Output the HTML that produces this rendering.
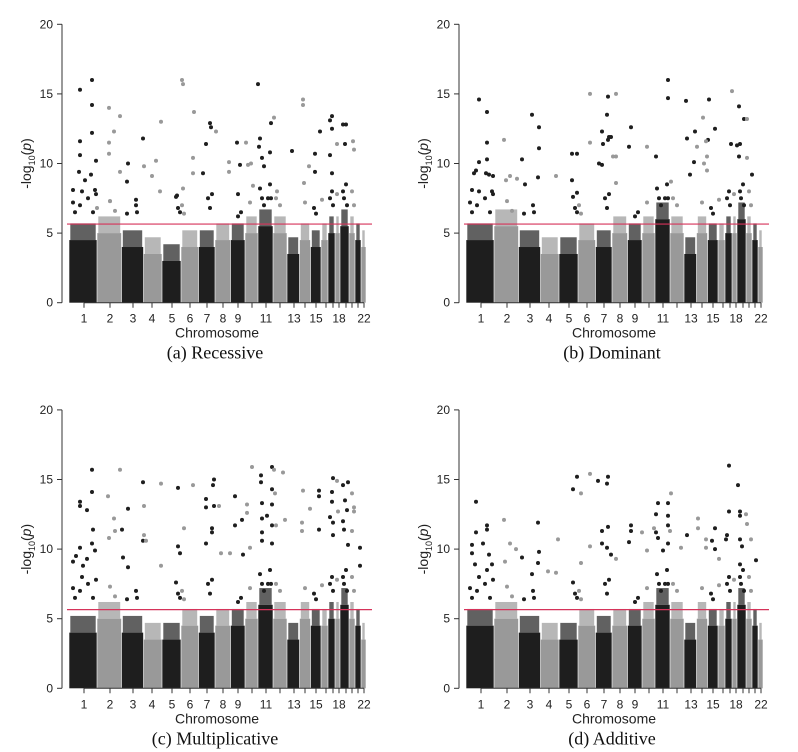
<!DOCTYPE html>
<html><head><meta charset="utf-8"><style>
html,body{margin:0;padding:0;background:#fff;}
svg{display:block;}
</style></head><body>
<svg id="fig" width="798" height="752" viewBox="0 0 798 752" xmlns="http://www.w3.org/2000/svg"></svg>
<script>
// ---- data ----
const chromosomes = ["1","2","3","4","5","6","7","8","9","10","11","12","13","14","15","16","17","18","19","20","21","22"];
const shownLabels = ["1","2","3","4","5","6","7","8","9","11","13","15","18","22"];
const yTicks = [0,5,10,15,20];
const threshold = 5.65;
const panelTitles = ["(a) Recessive","(b) Dominant","(c) Multiplicative","(d) Additive"];
// dense band heights per chromosome (-log10 p)
const coreA = [4.5,5,4,3.5,3,4,4,4.5,4.5,5,5.5,5,3.5,4.5,4,4.5,5,5,5.5,5,4.5,4];
const coreB = [4.5,5.5,4,3.5,3.5,4.5,4,5,4.5,5,6,5,3.5,5,4.5,4.5,5,5,6,5,4.5,4];
const coreC = [4,5,4,3.5,3.5,4.5,4,4.5,4.5,5,6,5,3.5,5,4.5,4.5,5,5,6,5,4.5,3.5];
const coreD = [4.5,5,4,3.5,3.5,4.5,4,4.5,4.5,5,6,5,3.5,5,4.5,4.5,5,5,6,5,4.5,3.5];
// moderately significant SNPs (shared spike structure)
const midPos = [4,6,11,13,19,24,27,58,67,68,107,109,111,139,141,143,169,172,191,193,195,199,201,202,245,247,261,263,264,274,275,277,278,41,46,113,115,207,211,268,283,285,181,236,253];
const midVal = [7.2,6.5,7.0,8,7.5,6.5,7.8,6.4,7.0,6.5,7.6,6.8,6.5,7.5,6.8,7.8,6.2,6.5,8.2,7.5,7.0,7.5,8.5,7.5,6.8,6.4,7.5,8.0,7.0,8.0,7.5,8.5,7,7.3,6.6,7.0,6.4,7.5,7.0,7.8,8.0,7.0,7.2,7.2,7.4];
// genomic position (index units) and -log10(p) of prominent SNPs
const posA = [11,11,11,23,23,23,27,4,10,16,22,26,28,40,40,40,45,51,51,41,58,59,67,74,75,83,87,92,91,108,114,114,113,124,124,125,134,137,141,142,147,160,160,168,171,169,177,179,182,184,189,191,193,195,201,202,190,205,208,223,234,234,235,240,246,246,251,263,261,263,261,263,268,274,277,276,284,285],
      valA = [15.3,11.6,10.6,16,14.2,12.2,10.2,8.1,9.4,8.8,9.2,8.1,6.8,14,11.5,10.7,12.3,13.4,9.4,7.3,8.7,10,7.4,11.8,9.8,9.1,10.2,13,8,7.7,15.7,8.2,16,10.4,9.3,13.7,9.3,11.4,12.9,12.6,12.3,10.1,9.4,11.5,9.9,7.8,11.5,9.9,10,8.4,15.7,11.8,10.4,9.8,10.8,12.9,11.2,13.3,8,10.9,14.6,14.2,8.6,9.8,10.7,9.4,12.3,13.4,13.1,12.5,10.6,9.3,11.4,12.8,12.8,11.4,11.6,11];
const posB = [13,21,21,21,13,10,8,20,23,27,6,26,38,40,44,51,56,59,66,72,73,73,90,106,111,106,111,124,124,136,142,143,141,150,136,142,145,137,133,165,163,147,150,150,181,190,202,202,220,221,229,231,237,242,241,238,266,265,241,205,240,228,224,243,249,273,278,271,273,274,281,281,286],
      valB = [14.6,13.7,11.5,10.3,10.1,9.5,9.3,9.3,9.2,9.1,8.1,8,11.7,8.8,9.1,8.9,10.3,8.5,13.5,9,12.6,11.1,9.1,8.8,10.7,10.7,7.9,15,11.5,9.9,14.8,11.9,13.5,15,12.3,11.7,11.9,11.4,10,12.6,11.2,10.5,10.5,8.6,11.2,10.5,16,14.7,14.5,11.8,12.3,11.2,13.3,11.7,10.5,10,15.2,11.4,9.5,8.7,11.6,10.1,9.2,14.6,12.5,14.1,13.2,11.3,10.5,11.4,13.2,10.4,9.2];
const posC = [11,11,11,18,18,4,7,23,23,23,24,26,14,39,40,45,46,51,53,54,59,59,74,74,75,75,77,92,92,109,109,111,115,124,137,137,137,144,145,145,143,143,150,152,161,166,166,173,174,178,178,183,181,192,192,193,193,193,193,198,203,203,203,203,203,205,206,207,214,216,234,233,233,241,250,250,250,264,264,264,263,263,261,268,269,274,279,276,278,274,275,279,285,283,283,285,291,291],
      valC = [13.4,13.1,10.1,12.8,9.3,9.1,9.5,15.7,14.1,10.4,11.4,9.9,8.8,13.8,10.8,12.2,11.3,15.7,11.4,9.4,12.9,8.7,14.8,10.6,13.1,11.0,10.6,14.7,8.8,14.4,10.2,9.7,11.5,14.6,13.6,13.0,10.4,14.6,15.0,13.1,11.5,11.2,13.1,9.7,9.7,13.8,11.7,12.1,9.6,13.2,12.6,15.9,10.1,15.3,14.8,13.3,12.2,11.2,10.6,12.4,15.9,13.2,10.4,14.3,11.7,15.7,14.0,11.7,15.5,12.1,14.2,11.9,11.3,12.9,14.2,13.8,11.4,15.1,11.9,11.0,14.1,13.4,12.3,14.9,12.7,14.6,14.8,13.5,12.8,12.0,11.4,10.3,13.0,14.0,11.3,12.7,10.1,8.8];
const posD = [10,10,6,6,9,17,21,21,23,21,26,38,39,44,50,56,66,72,72,73,82,90,92,107,111,115,115,124,124,132,141,142,136,136,142,141,145,150,165,163,165,176,181,192,190,190,192,202,202,202,202,197,188,205,204,215,221,232,232,240,240,249,246,249,253,263,263,261,260,272,274,274,280,274,276,274,281,285,290],
      valD = [13.4,11.2,10.3,9.7,8.9,10.4,11.7,11.4,9.6,8.5,8.9,12.1,9.1,10.4,10.0,9.4,8.2,11.9,9.0,9.8,8.4,8.3,10.7,14.3,15.2,14.0,9.0,15.4,10.2,14.9,14.7,15.2,11.3,10.4,11.6,10.1,9.6,9.3,11.7,10.5,11.3,11.2,9.9,13.3,12.5,11.2,10.8,13.3,12.4,11.7,10.4,9.9,11.5,14.0,11.3,10.1,11.0,12.2,11.5,10.7,10.1,11.5,10.6,10.0,9.3,16.0,12.7,11.0,10.7,14.6,12.7,12.4,12.5,10.7,10.2,8.9,11.8,10.7,9.2];
</script>
<script>
const svg = document.getElementById('fig');
const NS = 'http://www.w3.org/2000/svg';
const bounds = [0,28,52.5,74.5,93,112,129.5,146,161.5,176,189,204,218,230.5,241.5,252,259,266,271,280,286,292,297];
const centers = [15,41,64,83,103,121,138,154,169,183,197,211,225,236,247,257,264,270,277,283,289,295];
function chrOf(p){for(let i=0;i<22;i++){if(p<bounds[i+1])return i;}return 21;}
function mk(tag,attrs,parent){const e=document.createElementNS(NS,tag);for(const k in attrs)e.setAttribute(k,attrs[k]);(parent||svg).appendChild(e);return e;}

const panels=[
 {ox:0,oy:0,core:coreA,pos:posA,val:valA},
 {ox:397,oy:0,core:coreB,pos:posB,val:valB},
 {ox:0,oy:385.6,core:coreC,pos:posC,val:valC},
 {ox:397,oy:385.6,core:coreD,pos:posD,val:valD}
];
const BLACK='#1e1e1e', GRAY='#999999';
panels.forEach((P,pi)=>{
  const g=mk('g',{});
  
  
  const xS=p=>P.ox+69+p;
  const yS=v=>P.oy+302.7-v*13.92;
  for(let i=0;i<22;i++){
    const col=(i%2===0)?BLACK:GRAY;
    const x0=xS(bounds[i])+0.3,x1=xS(bounds[i+1])-0.3;
    const r=mk('rect',{x:x0,y:yS(P.core[i]),width:x1-x0,height:yS(0)-yS(P.core[i]),fill:col},g);
    
    
    const top=P.core[i]+1.2;
    const r2=mk('rect',{x:x0+1,y:yS(top),width:Math.max(1,x1-x0-2),height:yS(P.core[i])-yS(top),fill:col,opacity:0.7},g);
    
    
  }
  const tl=mk('line',{x1:P.ox+67,x2:P.ox+372,y1:yS(threshold),y2:yS(threshold),stroke:'#d6335a','stroke-width':1.2},g);
  
  
  const allPos=P.pos.concat(midPos), allVal=P.val.concat(midVal);
  for(let k=0;k<allPos.length;k++){
    const c=chrOf(allPos[k]);
    const d=mk('circle',{cx:xS(allPos[k]),cy:yS(allVal[k]),r:2,fill:(c%2===0)?BLACK:GRAY},g);
    
    
  }
  const ya=mk('line',{x1:P.ox+62,x2:P.ox+62,y1:yS(0),y2:yS(20),stroke:'#333','stroke-width':1},g);
  
  
  yTicks.forEach(t=>{
    mk('line',{x1:P.ox+57,x2:P.ox+62,y1:yS(t),y2:yS(t),stroke:'#333'},g);
    const tx=mk('text',{x:P.ox+53,y:yS(t)+4,'text-anchor':'end','font-size':12,'font-family':'Liberation Sans, sans-serif',fill:'#222'},g);
    tx.textContent=t;
    
    
  });
  const yt=mk('text',{transform:`translate(${P.ox+31},${yS(10)}) rotate(-90)`,'text-anchor':'middle','font-size':14,'font-family':'Liberation Sans, sans-serif',fill:'#222'},g);
  yt.innerHTML='-log<tspan font-size="9" dy="4">10</tspan><tspan dy="-4">(</tspan><tspan font-style="italic">p</tspan>)';
  
  
  const xa=mk('line',{x1:xS(centers[0]),x2:xS(centers[21]),y1:yS(0),y2:yS(0),stroke:'#333'},g);
  
  
  for(let i=0;i<22;i++){
    mk('line',{x1:xS(centers[i]),x2:xS(centers[i]),y1:yS(0),y2:yS(0)+5,stroke:'#333'},g);
    if(shownLabels.includes(chromosomes[i])){
      const tx=mk('text',{x:xS(centers[i]),y:yS(0)+20,'text-anchor':'middle','font-size':12,'font-family':'Liberation Sans, sans-serif',fill:'#222'},g);
      tx.textContent=chromosomes[i];
      
      
    }
  }
  const xt=mk('text',{x:P.ox+217,y:yS(0)+35,'text-anchor':'middle','font-size':14,'font-family':'Liberation Sans, sans-serif',fill:'#222'},g);
  xt.textContent='Chromosome';
  
  
  const ct=mk('text',{x:P.ox+215,y:yS(0)+56,'text-anchor':'middle','font-size':18,'font-family':'Liberation Serif, serif',fill:'#111'},g);
  ct.textContent=panelTitles[pi];
  
  
});
</script>
</body></html>
